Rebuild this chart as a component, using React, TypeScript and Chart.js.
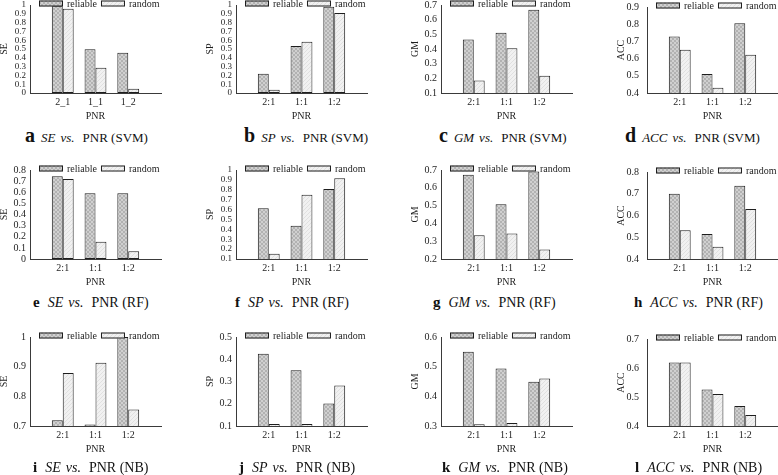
import React, { useEffect, useRef } from 'react';
import { Chart, registerables } from 'chart.js';

Chart.register(...registerables);

const FONT = '"Liberation Serif", "Times New Roman", Times, serif';

// ---------- categories ----------
const categoriesUnderscore = ['2_1', '1_1', '1_2'];
const categories = ['2:1', '1:1', '1:2'];
const seriesNames = ['reliable', 'random'];

// ---------- SVM ----------
const seSvmReliable = [0.99, 0.496, 0.458];
const seSvmRandom = [0.958, 0.288, 0.049];
const spSvmReliable = [0.22, 0.534, 0.981];
const spSvmRandom = [0.038, 0.583, 0.909];
const gmSvmReliable = [0.464, 0.511, 0.668];
const gmSvmRandom = [0.186, 0.405, 0.218];
const accSvmReliable = [0.728, 0.51, 0.805];
const accSvmRandom = [0.652, 0.43, 0.623];

// ---------- RF ----------
const seRfReliable = [0.743, 0.592, 0.592];
const seRfRandom = [0.719, 0.154, 0.069];
const spRfReliable = [0.614, 0.437, 0.807];
const spRfRandom = [0.154, 0.75, 0.916];
const gmRfReliable = [0.674, 0.508, 0.692];
const gmRfRandom = [0.334, 0.343, 0.253];
const accRfReliable = [0.7, 0.515, 0.737];
const accRfRandom = [0.532, 0.456, 0.63];

// ---------- NB ----------
const seNbReliable = [0.719, 0.705, 1.0];
const seNbRandom = [0.879, 0.913, 0.756];
const spNbReliable = [0.425, 0.351, 0.201];
const spNbRandom = [0.109, 0.109, 0.282];
const gmNbReliable = [0.55, 0.494, 0.449];
const gmNbRandom = [0.306, 0.31, 0.46];
const accNbReliable = [0.619, 0.526, 0.469];
const accNbRandom = [0.619, 0.51, 0.438];

// ---------- y tick values ----------
const ticks0to1 = [0, 0.1, 0.2, 0.3, 0.4, 0.5, 0.6, 0.7, 0.8, 0.9, 1];
const ticks01to07 = [0.1, 0.2, 0.3, 0.4, 0.5, 0.6, 0.7];
const ticks04to09 = [0.4, 0.5, 0.6, 0.7, 0.8, 0.9];
const ticks0to08 = [0, 0.1, 0.2, 0.3, 0.4, 0.5, 0.6, 0.7, 0.8];
const ticks01to1 = [0.1, 0.2, 0.3, 0.4, 0.5, 0.6, 0.7, 0.8, 0.9, 1];
const ticks02to07 = [0.2, 0.3, 0.4, 0.5, 0.6, 0.7];
const ticks04to08 = [0.4, 0.5, 0.6, 0.7, 0.8];
const ticks07to1 = [0.7, 0.8, 0.9, 1];
const ticks01to05 = [0.1, 0.2, 0.3, 0.4, 0.5];
const ticks03to06 = [0.3, 0.4, 0.5, 0.6];
const ticks04to07 = [0.4, 0.5, 0.6, 0.7];

type PanelDef = {
  letter: string;
  metric: string;
  classifier: string;
  cats: string[];
  reliable: number[];
  random: number[];
  ticks: number[];
  col: number;
  row: number;
};

const panels: PanelDef[] = [
  { letter: 'a', metric: 'SE', classifier: 'SVM', cats: categoriesUnderscore, reliable: seSvmReliable, random: seSvmRandom, ticks: ticks0to1, col: 0, row: 0 },
  { letter: 'b', metric: 'SP', classifier: 'SVM', cats: categories, reliable: spSvmReliable, random: spSvmRandom, ticks: ticks0to1, col: 1, row: 0 },
  { letter: 'c', metric: 'GM', classifier: 'SVM', cats: categories, reliable: gmSvmReliable, random: gmSvmRandom, ticks: ticks01to07, col: 2, row: 0 },
  { letter: 'd', metric: 'ACC', classifier: 'SVM', cats: categories, reliable: accSvmReliable, random: accSvmRandom, ticks: ticks04to09, col: 3, row: 0 },
  { letter: 'e', metric: 'SE', classifier: 'RF', cats: categories, reliable: seRfReliable, random: seRfRandom, ticks: ticks0to08, col: 0, row: 1 },
  { letter: 'f', metric: 'SP', classifier: 'RF', cats: categories, reliable: spRfReliable, random: spRfRandom, ticks: ticks01to1, col: 1, row: 1 },
  { letter: 'g', metric: 'GM', classifier: 'RF', cats: categories, reliable: gmRfReliable, random: gmRfRandom, ticks: ticks02to07, col: 2, row: 1 },
  { letter: 'h', metric: 'ACC', classifier: 'RF', cats: categories, reliable: accRfReliable, random: accRfRandom, ticks: ticks04to08, col: 3, row: 1 },
  { letter: 'i', metric: 'SE', classifier: 'NB', cats: categories, reliable: seNbReliable, random: seNbRandom, ticks: ticks07to1, col: 0, row: 2 },
  { letter: 'j', metric: 'SP', classifier: 'NB', cats: categories, reliable: spNbReliable, random: spNbRandom, ticks: ticks01to05, col: 1, row: 2 },
  { letter: 'k', metric: 'GM', classifier: 'NB', cats: categories, reliable: gmNbReliable, random: gmNbRandom, ticks: ticks03to06, col: 2, row: 2 },
  { letter: 'l', metric: 'ACC', classifier: 'NB', cats: categories, reliable: accNbReliable, random: accNbRandom, ticks: ticks04to07, col: 3, row: 2 },
];

// ---------- layout ----------
const COL_AXIS_X = [30, 236, 441, 647];
const ROW_TOP = [5, 170, 337];
const ROW_H = [88, 89, 89];
const PLOT_W = 132;
const Y_AXIS_W = 32;
const X_AXIS_H = 30;
const PAD_TOP = 12;
const CAPTION_Y = [135, 302, 467];
const CAPTION_X = [
  [25, 244, 439, 625],
  [33, 235, 433, 634],
  [33, 239, 442, 635],
];

const INK = '#1e1e1e';

function makePattern(kind: 'reliable' | 'random'): CanvasPattern | string {
  const c = document.createElement('canvas');
  c.width = 4;
  c.height = 4;
  const x = c.getContext('2d');
  if (!x) return kind === 'reliable' ? '#c4c4c4' : '#eeeeee';
  if (kind === 'reliable') {
    x.fillStyle = '#d0d0d0';
    x.fillRect(0, 0, 4, 4);
    x.fillStyle = '#b2b2b2';
    for (let i = 0; i < 4; i++) {
      x.fillRect(i, i, 1, 1);
      x.fillRect(3 - i, i, 1, 1);
    }
  } else {
    x.fillStyle = '#f1f1f1';
    x.fillRect(0, 0, 4, 4);
    x.fillStyle = '#e0e0e0';
    for (let i = 0; i < 4; i++) {
      x.fillRect(3 - i, i, 1, 1);
    }
  }
  const p = x.createPattern(c, 'repeat');
  return p || (kind === 'reliable' ? '#c4c4c4' : '#eeeeee');
}

const topLegend = {
  id: 'topLegend',
  afterDraw(chart: any) {
    const { ctx, chartArea } = chart;
    ctx.save();
    ctx.font = `10px ${FONT}`;
    ctx.textBaseline = 'middle';
    let x = chartArea.left + 9;
    const yc = chartArea.top - 1.5;
    chart.data.datasets.forEach((ds: any) => {
      ctx.fillStyle = ds.backgroundColor;
      ctx.fillRect(x, yc - 3, 24, 6);
      ctx.strokeStyle = INK;
      ctx.lineWidth = 1;
      ctx.strokeRect(x + 0.5, yc - 2.5, 23, 5);
      ctx.fillStyle = INK;
      ctx.fillText(ds.label, x + 28, yc + 0.5);
      x += 28 + ctx.measureText(ds.label).width + 4;
    });
    ctx.restore();
  },
};

function fmt(v: number) {
  return String(Number(Number(v).toFixed(2)));
}

function BarPanel({ def }: { def: PanelDef }) {
  const ref = useRef<HTMLCanvasElement>(null);
  const plotH = ROW_H[def.row];
  const width = Y_AXIS_W + PLOT_W + 2;
  const height = PAD_TOP + plotH + X_AXIS_H;
  const left = COL_AXIS_X[def.col] - Y_AXIS_W;
  const top = ROW_TOP[def.row] - PAD_TOP;

  useEffect(() => {
    const canvas = ref.current;
    if (!canvas) return;
    const labels = ['', ...def.cats, ''];
    const pad = (arr: number[]) => [null, ...arr, null];
    const tickVals = def.ticks;
    const yTickSize = tickVals.length > 9 ? 9 : 10;
    const chart = new Chart(canvas, {
      type: 'bar',
      data: {
        labels,
        datasets: [
          {
            label: seriesNames[0],
            data: pad(def.reliable) as any,
            backgroundColor: makePattern('reliable') as any,
            borderColor: INK,
            borderWidth: 1,
            borderSkipped: false,
            categoryPercentage: 0.667,
            barPercentage: 1,
          },
          {
            label: seriesNames[1],
            data: pad(def.random) as any,
            backgroundColor: makePattern('random') as any,
            borderColor: INK,
            borderWidth: 1,
            borderSkipped: false,
            categoryPercentage: 0.667,
            barPercentage: 1,
          },
        ],
      },
      options: {
        responsive: false,
        animation: false,
        devicePixelRatio: 1,
        layout: { padding: { top: PAD_TOP, right: 2, left: 0, bottom: 0 } },
        plugins: {
          legend: { display: false },
          tooltip: { enabled: false },
        },
        scales: {
          x: {
            type: 'category',
            offset: false,
            grid: { display: false, drawTicks: false, offset: false },
            border: { display: true, color: '#3a3a3a', width: 1 },
            ticks: {
              color: INK,
              font: { family: FONT, size: 10 },
              padding: 3,
              maxRotation: 0,
              autoSkip: false,
            },
            title: {
              display: true,
              text: 'PNR',
              color: INK,
              font: { family: FONT, size: 10 },
              padding: { top: 1, bottom: 1 },
            },
            afterFit: (s: any) => {
              s.height = X_AXIS_H;
            },
          },
          y: {
            type: 'linear',
            min: tickVals[0],
            max: tickVals[tickVals.length - 1],
            grid: { display: false, drawTicks: false },
            border: { display: true, color: '#3a3a3a', width: 1 },
            afterBuildTicks: (s: any) => {
              s.ticks = tickVals.map((v) => ({ value: v }));
            },
            ticks: {
              color: INK,
              font: { family: FONT, size: yTickSize },
              padding: def.col === 3 ? 8 : 4,
              autoSkip: false,
              callback: (v: any) => fmt(v),
            },
            title: {
              display: true,
              text: def.metric,
              color: INK,
              font: { family: FONT, size: 10 },
              padding: { top: 0, bottom: 0 },
            },
            afterFit: (s: any) => {
              s.width = Y_AXIS_W;
            },
          },
        },
      },
      plugins: [topLegend],
    });
    return () => chart.destroy();
  }, []);

  return (
    <canvas
      ref={ref}
      width={width}
      height={height}
      style={{ position: 'absolute', left, top, width, height }}
    />
  );
}

function Caption({ def }: { def: PanelDef }) {
  const big = def.row === 0;
  const letterSize = big ? 20 : 15;
  const textSize = big ? 13 : 14;
  const cy = CAPTION_Y[def.row];
  return (
    <div
      style={{
        position: 'absolute',
        left: CAPTION_X[def.row][def.col],
        top: cy - 12,
        height: 24,
        lineHeight: '24px',
        whiteSpace: 'nowrap',
        fontFamily: FONT,
        color: '#111',
      }}
    >
      <span style={{ fontWeight: 'bold', fontSize: letterSize }}>{def.letter}</span>
      <span style={{ fontStyle: 'italic', fontSize: textSize, marginLeft: big ? 6 : 8 }}>{def.metric}</span>
      <span style={{ fontStyle: 'italic', fontSize: textSize, marginLeft: 5 }}>vs.</span>
      <span style={{ fontSize: textSize, marginLeft: 8 }}>{`PNR (${def.classifier})`}</span>
    </div>
  );
}

export default function App() {
  return (
    <div
      style={{
        position: 'fixed',
        left: 0,
        top: 0,
        width: 778,
        height: 475,
        overflow: 'hidden',
        background: '#ffffff',
      }}
    >
      {panels.map((p) => (
        <BarPanel key={'c' + p.letter} def={p} />
      ))}
      {panels.map((p) => (
        <Caption key={'t' + p.letter} def={p} />
      ))}
    </div>
  );
}
